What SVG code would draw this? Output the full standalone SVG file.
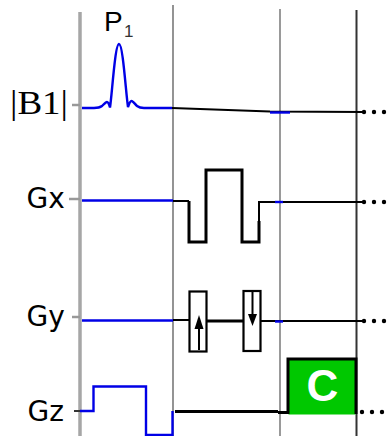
<svg xmlns="http://www.w3.org/2000/svg" width="392" height="436" viewBox="0 0 392 436">
<style>
.lbl{font-family:"DejaVu Sans",sans-serif;font-size:28px;fill:#000}
.bl{fill:none;stroke:#0000e6;stroke-width:2.4;stroke-linejoin:miter}
.bk{fill:none;stroke:#000;stroke-width:2}
.bk3{fill:none;stroke:#000;stroke-width:3}
.box{fill:#fff;stroke:#000;stroke-width:2.2}
.dots{fill:none;stroke:#000;stroke-width:4.4;stroke-linecap:round;stroke-dasharray:0 10}
.tick{stroke:#999;stroke-width:2.5}
</style>
<g id="timelines">
<line x1="80" y1="12" x2="80" y2="436" stroke="#a6a6a6" stroke-width="3.5"/>
<line x1="173" y1="5" x2="173" y2="436" stroke="#666" stroke-width="1.4"/>
<line x1="280" y1="9" x2="280" y2="436" stroke="#808080" stroke-width="1.6"/>
<line x1="356.500" y1="10" x2="356.500" y2="436" stroke="#333" stroke-width="2"/>
<line x1="72" y1="105" x2="80" y2="105" class="tick"/>
<line x1="69" y1="199" x2="80" y2="199" class="tick"/>
<line x1="72" y1="317" x2="80" y2="317" class="tick"/>
<line x1="74" y1="411" x2="84" y2="411" stroke="#333" stroke-width="2"/>
</g>
<g id="connectors">
<path class="bk" d="M172 108 L270 111.500 L364 112"/>
<path class="bk" d="M173 201 H189"/>
<path class="bk" d="M259 221 V202 H364"/>
<path class="bk" d="M173 320 H189"/>
<path class="bk3" d="M207 321 H244"/>
<path class="bk" d="M261 321 H364"/>
<path class="bk3" d="M175 411.500 H278 M278 412.500 H288"/>
<path class="dots" d="M364 112 H392 M364 202 H392 M364 321 H392"/>
<path class="dots" d="M362 412 H392"/>
</g>
<g id="b1-pulse">
<path class="bl" d="M82 108 H94 C99 108 100 107.500 102 106 C104 104 106 102 107 102 C108 102 109 104 110 107.500 C112 95 115 44 119 44 C123 44 126 95 128 107 C129 104 130 101 131.500 101 C133 101 135 104 137 106 C139 107.500 140 108 144 108 H172"/>
<path class="bl" d="M270 112.500 H290"/>
</g>
<g id="gx">
<path class="bl" d="M82 200.500 H173"/>
<path class="bl" d="M275 202 H283"/>
<path d="M189 201 V242 H206 V170 H242 V242 H259 V221" fill="none" stroke="#000" stroke-width="3"/>
</g>
<g id="gy">
<path class="bl" d="M82 320.500 H173"/>
<path class="bl" d="M275 321.500 H283"/>
<rect id="gy-up" class="box" x="189.500" y="291.500" width="17" height="60"/>
<line x1="199" y1="350" x2="199" y2="325" stroke="#000" stroke-width="2"/>
<polygon points="199,315 203.500,329 194.500,329" fill="#000"/>
<rect id="gy-down" class="box" x="243.500" y="291" width="17" height="60"/>
<line x1="252.500" y1="292" x2="252.500" y2="315" stroke="#000" stroke-width="2"/>
<polygon points="252.500,326 248,314 257,314" fill="#000"/>
</g>
<g id="gz">
<path class="bl" d="M80 411 H93.500 V386.500 H146 V435 H172.500 V411"/>
</g>
<g id="c-block">
<rect x="288.500" y="359" width="67" height="55.500" fill="#00c800"/>
<path d="M288 414 V359 H356 V414" fill="none" stroke="#000" stroke-width="3"/>
<text x="322.500" y="401" text-anchor="middle" font-family="Liberation Sans, sans-serif" font-weight="700" font-size="44" fill="#fff">C</text>
</g>
<g id="labels">
<text x="104" y="31" font-family="Liberation Sans, sans-serif" font-size="28">P</text>
<text x="124" y="37" font-family="Liberation Sans, sans-serif" font-size="17" fill="#333">1</text>
<text x="10" y="114" font-family="Liberation Serif, serif" font-size="33" textLength="58" lengthAdjust="spacingAndGlyphs">|B1|</text>
<text class="lbl" x="26.500" y="207.500">Gx</text>
<text class="lbl" x="26.500" y="326">Gy</text>
<text class="lbl" x="27.500" y="420.500">Gz</text>
</g>
</svg>
